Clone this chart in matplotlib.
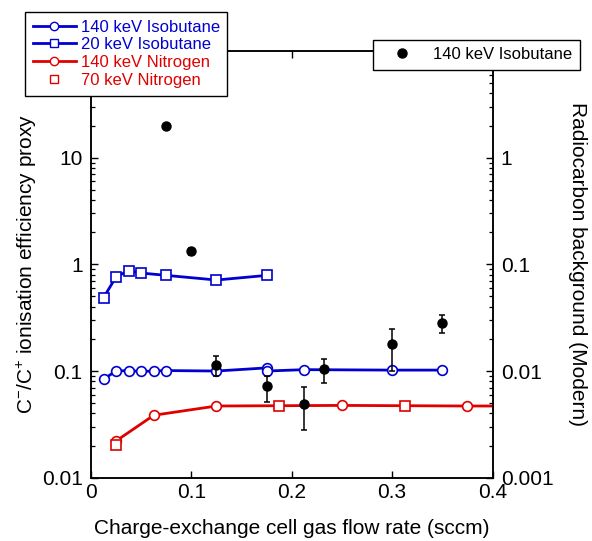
import matplotlib
matplotlib.use("Agg")
import matplotlib.pyplot as plt
from matplotlib.lines import Line2D
from matplotlib.ticker import LogLocator, NullFormatter, FixedLocator, FixedFormatter

plt.rcParams['font.family'] = ['Liberation Sans', 'DejaVu Sans']
plt.rcParams['mathtext.fontset'] = 'custom'
plt.rcParams['mathtext.rm'] = 'Liberation Sans'
plt.rcParams['mathtext.it'] = 'Liberation Sans:italic'

# 140 keV Isobutane (ionisation proxy)
iso140_x = [0.0125, 0.025, 0.0375, 0.05, 0.0625, 0.075, 0.125, 0.175, 0.175, 0.2125, 0.30, 0.35]
iso140_y = [0.084, 0.100, 0.101, 0.099, 0.100, 0.101, 0.100, 0.107, 0.100, 0.103, 0.102, 0.102]
# 20 keV Isobutane
iso20_x = [0.0125, 0.025, 0.0375, 0.05, 0.075, 0.125, 0.175]
iso20_y = [0.486, 0.765, 0.871, 0.829, 0.788, 0.713, 0.788]
# 140 keV Nitrogen
n140_x = [0.025, 0.0625, 0.125, 0.25, 0.375, 0.50]
n140_y = [0.0221, 0.0385, 0.047, 0.0476, 0.047, 0.047]
# 70 keV Nitrogen
n70_x = [0.025, 0.1875, 0.3125]
n70_y = [0.0201, 0.0467, 0.0467]
# 140 keV Isobutane radiocarbon background (right axis)
bg_x = [0.075, 0.10, 0.125, 0.175, 0.2125, 0.2325, 0.30, 0.35]
bg_y = [2.0, 0.133, 0.0115, 0.0072, 0.0049, 0.0104, 0.0178, 0.028]
bg_lo = [2.0, 0.123, 0.0090, 0.0051, 0.0028, 0.0078, 0.0101, 0.0225]
bg_hi = [2.0, 0.143, 0.0139, 0.0090, 0.0071, 0.0131, 0.0249, 0.0337]

x_ticks = [0, 0.1, 0.2, 0.3, 0.4]
x_labels = ['0', '0.1', '0.2', '0.3', '0.4']
yl_ticks = [0.01, 0.1, 1, 10]
yl_labels = ['0.01', '0.1', '1', '10']
yr_ticks = [0.001, 0.01, 0.1, 1]
yr_labels = ['0.001', '0.01', '0.1', '1']

blue = '#0000d0'
red = '#e00000'

fig = plt.figure(figsize=(5.92, 5.41), dpi=100)
ax = fig.add_axes([91/592, 1-477.7/541, (493-91.5)/592, (477.7-51)/541])
ax2 = ax.twinx()

lw = 2.0
ms = 7
ax.plot(iso140_x, iso140_y, '-o', color=blue, lw=lw, ms=ms, mfc='white', mec=blue, mew=1.2, zorder=3)
ax.plot(iso20_x, iso20_y, '-s', color=blue, lw=lw, ms=ms, mfc='white', mec=blue, mew=1.2, zorder=3)
ax.plot(n140_x, n140_y, '-o', color=red, lw=lw, ms=ms, mfc='white', mec=red, mew=1.2, zorder=3)
ax.plot(n70_x, n70_y, 's', color=red, ms=ms, mfc='white', mec=red, mew=1.2, zorder=4)

yerr = [[y - lo for y, lo in zip(bg_y, bg_lo)], [hi - y for y, hi in zip(bg_y, bg_hi)]]
ax2.errorbar(bg_x, bg_y, yerr=yerr, fmt='o', color='black', ms=6.5, capsize=2.5, elinewidth=1.1, capthick=1.1, zorder=5)

ax.set_xlim(0, 0.4)
ax.set_yscale('log')
ax.set_ylim(0.01, 100)
ax2.set_yscale('log')
ax2.set_ylim(0.001, 10)

ax.xaxis.set_major_locator(FixedLocator(x_ticks))
ax.xaxis.set_major_formatter(FixedFormatter(x_labels))
ax.yaxis.set_major_locator(FixedLocator(yl_ticks))
ax.yaxis.set_major_formatter(FixedFormatter(yl_labels))
ax.yaxis.set_minor_locator(LogLocator(base=10, subs=range(2, 10), numticks=20))
ax.yaxis.set_minor_formatter(NullFormatter())
ax2.yaxis.set_major_locator(FixedLocator(yr_ticks))
ax2.yaxis.set_major_formatter(FixedFormatter(yr_labels))
ax2.yaxis.set_minor_locator(LogLocator(base=10, subs=range(2, 10), numticks=20))
ax2.yaxis.set_minor_formatter(NullFormatter())

for a in (ax, ax2):
    for s in a.spines.values():
        s.set_linewidth(1.1)
ax.tick_params(axis='x', which='both', direction='in', top=True, length=5, width=1.0, labelsize=15, pad=4)
ax.tick_params(axis='y', which='major', direction='in', length=5, width=1.0, labelsize=15, pad=6)
ax.tick_params(axis='y', which='minor', direction='in', length=3, width=0.9)
ax2.tick_params(axis='y', which='major', direction='in', length=5, width=1.0, labelsize=15, pad=6)
ax2.tick_params(axis='y', which='minor', direction='in', length=3, width=0.9)

ax.set_xlabel('Charge-exchange cell gas flow rate (sccm)', fontsize=15, labelpad=12)
ax.set_ylabel(r'C$^{-}$/C$^{+}$ ionisation efficiency proxy', fontsize=15, labelpad=2)
ax2.set_ylabel('Radiocarbon background (Modern)', fontsize=15, rotation=270, labelpad=24)

h1 = [
    Line2D([], [], color=blue, lw=lw, marker='o', ms=6, mfc='white', mec=blue),
    Line2D([], [], color=blue, lw=lw, marker='s', ms=6, mfc='white', mec=blue),
    Line2D([], [], color=red, lw=lw, marker='o', ms=6, mfc='white', mec=red),
    Line2D([], [], color=red, lw=0, marker='s', ms=6, mfc='white', mec=red),
]
l1 = ['140 keV Isobutane', '20 keV Isobutane', '140 keV Nitrogen', '70 keV Nitrogen']
leg1 = fig.legend(h1, l1, loc='upper left', bbox_to_anchor=(25/592, 1-12/541),
                  fontsize=12, frameon=True, fancybox=False, edgecolor='black',
                  framealpha=1, handlelength=2.6, handletextpad=0.3, labelspacing=0.17,
                  borderpad=0.45, borderaxespad=0)
leg1.get_frame().set_linewidth(1.0)
for t, c in zip(leg1.get_texts(), [blue, blue, red, red]):
    t.set_color(c)

h2 = [Line2D([], [], color='black', lw=0, marker='o', ms=6.5)]
leg2 = fig.legend(h2, ['140 keV Isobutane'], loc='upper right', bbox_to_anchor=(580/592, 1-39.5/541),
                  fontsize=12, frameon=True, fancybox=False, edgecolor='black',
                  framealpha=1, handlelength=2.6, handletextpad=0.6, borderpad=0.45, borderaxespad=0)
leg2.get_frame().set_linewidth(1.0)

fig.savefig('out.png', dpi=100)
